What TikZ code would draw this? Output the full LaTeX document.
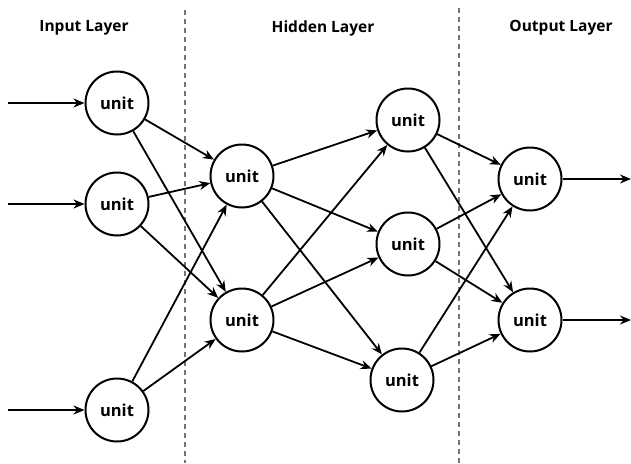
\documentclass[tikz,border=0pt]{standalone}
\usepackage{fontspec}
\setmainfont{Open Sans}
\usetikzlibrary{arrows.meta}
\begin{document}
\begin{tikzpicture}[x=1pt,y=-1pt,
  unitnode/.style={circle,draw=black,line width=2pt,minimum size=63pt,inner sep=0pt,font=\fontsize{16.5}{18}\selectfont\bfseries,fill=white},
  conn/.style={line width=1.8pt,-{Stealth[length=11pt,width=9pt]}},
  divider/.style={draw=black!55,line width=1.4pt,dash pattern=on 5pt off 4pt},
  header/.style={font=\fontsize{15.5}{18}\selectfont\bfseries}]
\useasboundingbox (0,0) rectangle (631,463);
% dividers
\coordinate (d1t) at (185,10); \coordinate (d1b) at (185,463);
\coordinate (d2t) at (459,8); \coordinate (d2b) at (459,463);
\draw[divider] (d1t) -- (d1b);
\draw[divider] (d2t) -- (d2b);
% headers
\node[header] (hin) at (84,28) {Input Layer};
\node[header] (hhid) at (323,28) {Hidden Layer};
\node[header] (hout) at (561,28) {Output Layer};
% nodes
\node[unitnode] (i1) at (117,103) {unit};
\node[unitnode] (i2) at (117,204) {unit};
\node[unitnode] (i3) at (117,410) {unit};
\node[unitnode] (a1) at (242,176) {unit};
\node[unitnode] (a2) at (242,320) {unit};
\node[unitnode] (b1) at (408,120) {unit};
\node[unitnode] (b2) at (408,244) {unit};
\node[unitnode] (b3) at (402,380) {unit};
\node[unitnode] (o1) at (530,179) {unit};
\node[unitnode] (o2) at (530,320) {unit};
% input arrows
\coordinate (s1) at (8,103);
\coordinate (s2) at (8,204);
\coordinate (s3) at (8,410);
\draw[conn] (s1) -- (i1);
\draw[conn] (s2) -- (i2);
\draw[conn] (s3) -- (i3);
% output arrows
\coordinate (e1) at (631,179);
\coordinate (e2) at (631,320);
\draw[conn] (o1) -- (e1);
\draw[conn] (o2) -- (e2);
% connections
\foreach \s in {i1,i2,i3}{\foreach \t in {a1,a2}{\draw[conn] (\s) -- (\t);}}
\foreach \s in {a1,a2}{\foreach \t in {b1,b2,b3}{\draw[conn] (\s) -- (\t);}}
\foreach \s in {b1,b2,b3}{\foreach \t in {o1,o2}{\draw[conn] (\s) -- (\t);}}
\end{tikzpicture}
\end{document}
